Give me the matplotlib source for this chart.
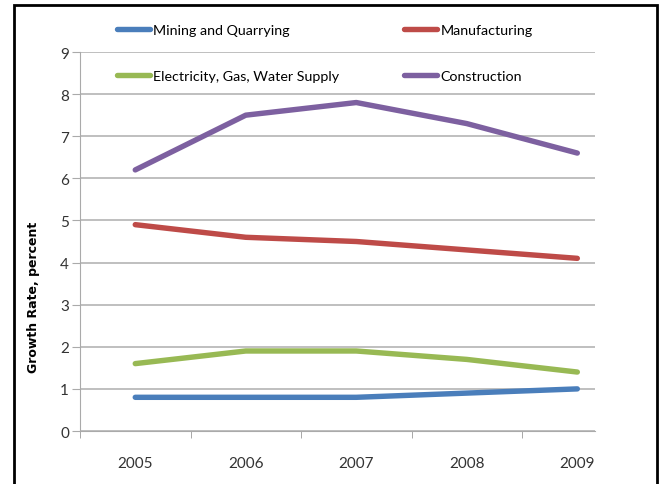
import matplotlib
matplotlib.use("Agg")
import matplotlib.pyplot as plt
from matplotlib.patches import Rectangle
import numpy as np

years = ['2005', '2006', '2007', '2008', '2009']
mining = [0.8, 0.8, 0.8, 0.9, 1.0]
manufacturing = [4.9, 4.6, 4.5, 4.3, 4.1]
utilities = [1.6, 1.9, 1.9, 1.7, 1.4]
construction = [6.2, 7.5, 7.8, 7.3, 6.6]

series = [
    ('Mining and Quarrying', mining, '#4a7ebb'),
    ('Manufacturing', manufacturing, '#be4b48'),
    ('Electricity, Gas, Water Supply', utilities, '#98b954'),
    ('Construction', construction, '#7d60a0'),
]

plt.rcParams['font.family'] = ['Lato', 'DejaVu Sans']

fig = plt.figure(figsize=(6.65, 4.85), dpi=100)
ax = fig.add_axes([80 / 665, 1 - 432 / 485, 515 / 665, 379 / 485])

x = np.arange(len(years))
handles = []
for name, vals, col in series:
    h, = ax.plot(x, vals, color=col, lw=3.9, solid_capstyle='round', label=name)
    handles.append(h)

ax.set_ylim(0, 9)
ax.set_yticks(range(10))
ax.set_xlim(-0.49, 4.16)
ax.set_xticks(x)
ax.set_xticklabels(years)
ax.set_xticks(np.arange(-0.5, 4.0, 1.0), minor=True)
ax.tick_params(axis='x', which='major', length=0, pad=18, labelsize=11, colors='#333333')
ax.tick_params(axis='x', which='minor', length=5, color='#999999', direction='out')
ax.tick_params(axis='y', length=6, color='#aaaaaa', labelsize=11, pad=2, labelcolor='#333333')
ax.yaxis.grid(True, color='#b4b4b4', lw=1.2)
ax.set_axisbelow(True)
for s in ['top', 'right']:
    ax.spines[s].set_visible(False)
ax.spines['left'].set_color('#aaaaaa')
ax.spines['bottom'].set_color('#aaaaaa')

ax.set_ylabel('Growth Rate, percent', family='DejaVu Sans', fontweight='bold',
              fontsize=9)
ax.yaxis.set_label_coords(-0.078, 0.356)

# legend in two columns, filled row by row
order = [0, 2, 1, 3]
fig.legend([handles[i] for i in order], [series[i][0] for i in order],
           ncol=2, loc='upper left', bbox_to_anchor=(117 / 665, 1 - 25 / 485),
           frameon=False, fontsize=10.3, handlelength=2.3, handletextpad=0.25,
           columnspacing=4.5, labelspacing=2.4, borderpad=0, borderaxespad=0)

fig.patches.append(Rectangle((14 / 665, -0.05), 643 / 665, 1.05 - 6 / 485,
                             transform=fig.transFigure, fill=False,
                             edgecolor='black', lw=2))

fig.savefig('out.png', dpi=100)
